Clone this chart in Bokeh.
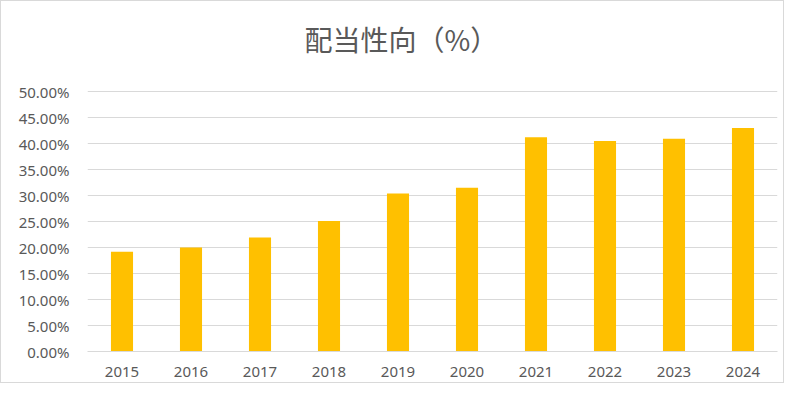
from bokeh.plotting import figure
from bokeh.models import ColumnDataSource, Range1d, FixedTicker, NumeralTickFormatter, Label
from bokeh.embed import file_html
from bokeh.resources import INLINE

years = ["2015", "2016", "2017", "2018", "2019", "2020", "2021", "2022", "2023", "2024"]
payout_ratio = [0.192, 0.200, 0.219, 0.251, 0.304, 0.315, 0.412, 0.405, 0.409, 0.430]
y_ticks = [0.0, 0.05, 0.10, 0.15, 0.20, 0.25, 0.30, 0.35, 0.40, 0.45, 0.50]
title_text = "配当性向（%）"

TEXT = "#595959"
GRID = "#d9d9d9"
BAR = "#ffc000"

# layout (pixels): frame spans y 10..350; the 50% gridline sits at y=90, title centred near y=40
FRAME_TOP, FRAME_BOTTOM, GRID_TOP, TITLE_Y = 10, 350, 90, 37
y_max = 0.5 * (FRAME_BOTTOM - FRAME_TOP) / (FRAME_BOTTOM - GRID_TOP)
title_y = y_max * (FRAME_BOTTOM - TITLE_Y) / (FRAME_BOTTOM - FRAME_TOP)
title_x = (303 - 86) / 69.0  # in category units from the frame's left edge

src = ColumnDataSource(dict(year=years, ratio=payout_ratio))

p = figure(
    x_range=years,
    y_range=Range1d(0, y_max),
    width=784, height=383,
    output_backend="svg",
    toolbar_location=None,
    min_border_left=86, min_border_right=8,
    min_border_top=FRAME_TOP, min_border_bottom=383 - FRAME_BOTTOM,
)
p.styles = {"border": "1px solid #d9d9d9", "box-sizing": "border-box"}
p.outline_line_color = None
p.background_fill_color = "white"
p.border_fill_color = "white"

p.vbar(x="year", top="ratio", width=0.32, source=src, color=BAR, line_color=None)

p.xgrid.grid_line_color = None
p.ygrid.grid_line_color = GRID
p.ygrid.grid_line_width = 1
p.ygrid.ticker = FixedTicker(ticks=y_ticks)

p.yaxis.ticker = FixedTicker(ticks=y_ticks)
p.yaxis.formatter = NumeralTickFormatter(format="0.00%")
p.yaxis.axis_line_color = None
p.yaxis.major_tick_line_color = None
p.yaxis.minor_tick_line_color = None
p.yaxis.major_tick_out = 0
p.yaxis.major_label_standoff = 18
p.yaxis.major_label_text_color = TEXT
p.yaxis.major_label_text_font = "Noto Sans"
p.yaxis.major_label_text_font_size = "15px"

p.xaxis.axis_line_color = GRID
p.xaxis.major_tick_line_color = None
p.xaxis.minor_tick_line_color = None
p.xaxis.major_tick_out = 0
p.xaxis.major_label_standoff = 15
p.xaxis.major_label_text_color = TEXT
p.xaxis.major_label_text_font = "Noto Sans"
p.xaxis.major_label_text_font_size = "15px"

title = Label(
    x=title_x, y=title_y,
    text=title_text, text_align="left", text_baseline="middle",
    text_color=TEXT, text_font="Noto Sans CJK JP", text_font_size="28px",
)
p.add_layout(title)

open("out.html", "w").write(file_html(p, INLINE))
